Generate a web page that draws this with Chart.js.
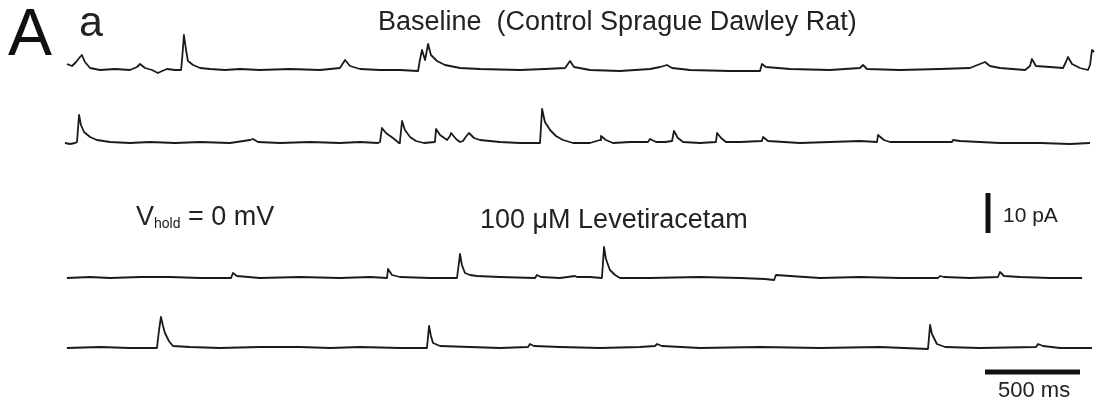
<!DOCTYPE html>
<html>
<head>
<meta charset="utf-8">
<script src="https://cdn.jsdelivr.net/npm/chart.js@4.4.1/dist/chart.umd.min.js"></script>
<style>
  html, body { margin: 0; padding: 0; background: #fff; }
  #wrap { position: relative; width: 1099px; height: 406px; overflow: hidden; }
  #wrap canvas { position: absolute; left: 0; top: 0; }
  .lbl { position: absolute; white-space: pre; line-height: 1; color: #222;
         font-family: "Liberation Sans", Arial, Helvetica, sans-serif; }
  .lbl sub { font-size: 14px; vertical-align: -3px; line-height: 1; }
</style>
</head>
<body>
<div id="wrap"><canvas id="traces"></canvas></div>
<script>
// Whole-cell recordings, Vhold = 0 mV: spontaneous currents
// time in ms from trace start, current in pA relative to each trace's baseline

// trace 1 - baseline, upper sweep
const T1_MS = [10, 37, 58, 79, 89, 105, 132, 184, 263, 342, 379, 395, 421, 458, 489, 511, 537, 579, 611, 616,
  626, 637, 647, 674, 711, 763, 842, 921, 1026, 1184, 1342, 1447, 1474, 1500, 1553, 1658, 1763, 1858, 1868, 1879,
  1895, 1911, 1926, 1958, 2000, 2079, 2184, 2395, 2526, 2632, 2658, 2679, 2763, 2921, 3079, 3132, 3168, 3195, 3289,
  3500, 3658, 3668, 3689, 3816, 4026, 4184, 4200, 4221, 4395, 4605, 4763, 4842, 4868, 4921, 5053, 5079, 5089, 5110,
  5184, 5253, 5268, 5279, 5300, 5342, 5384, 5395, 5405, 5416];
const T1_PA = [1.5, 1.0, 2.0, 3.25, 3.75, 2.0, 0.5, 0, 0.25, 0, 0.75, 1.5, 0.5, 0, -0.75, -0.25, 0.25, 0, 0, 2.5,
  8.75, 5.0, 2.25, 1.25, 0.5, 0.25, 0, 0.25, 0, 0.25, 0, 0.5, 2.5, 1.0, 0.25, 0, 0, -0.25, 2.5, 5.0,
  2.5, 6.5, 3.75, 2.25, 1.25, 0.5, 0.25, 0, 0.25, 0.5, 2.25, 0.75, 0, -0.25, 0.25, 0.75, 1.25, 0.5, 0,
  -0.25, -0.25, 1.5, 0.75, 0.25, 0, 0.5, 1.25, 0.25, 0, 0.25, 0.5, 2.0, 1.0, 0.5, 0, 1.0, 2.75, 1.0,
  0.75, 0.5, 2.0, 3.25, 1.5, 0.5, 0, 1.25, 5.0, 4.5];

// trace 2 - baseline, lower sweep
const T2_MS = [0, 26, 53, 63, 74, 84, 100, 132, 168, 237, 342, 447, 579, 711, 868, 974, 989, 1016, 1132, 1289,
  1447, 1553, 1647, 1658, 1668, 1689, 1726, 1758, 1763, 1774, 1789, 1816, 1847, 1868, 1889, 1947, 1953, 1974, 2011,
  2026, 2032, 2058, 2079, 2095, 2105, 2126, 2153, 2184, 2289, 2395, 2500, 2511, 2526, 2553, 2584, 2621, 2674, 2763,
  2816, 2821, 2847, 2884, 2974, 3068, 3079, 3111, 3158, 3195, 3205, 3226, 3253, 3342, 3426, 3432, 3453, 3479, 3553,
  3668, 3674, 3700, 3868, 4026, 4184, 4274, 4279, 4310, 4342, 4500, 4668, 4674, 4710, 4921, 5132, 5289, 5395];
const T2_PA = [0, -0.25, 0, 0.25, 7.0, 4.5, 2.75, 1.5, 0.75, 0.25, 0, 0.25, 0, 0.25, 0, 0.75, 1.0, 0.25, 0, 0.25,
  0, 0.25, 0, 0.25, 3.75, 2.5, 1.25, 0, 0.5, 5.5, 3.25, 1.5, 0.5, 0.25, 0, 0.25, 3.5, 2.0, 0.75,
  1.75, 2.5, 1.0, 0.25, 0.5, 1.25, 2.5, 1.25, 0.75, 0.25, 0, 0, 8.5, 5.25, 3.25, 1.75, 0.75, 0, 0,
  0.75, 1.75, 0.75, 0, 0.25, 0.25, 1.0, 0.25, 0.25, 0.5, 3.0, 1.25, 0.25, 0, 0.25, 2.5, 1.25, 0.25, 0.25,
  0.5, 1.5, 0.5, 0, 0.25, 0.5, 0.25, 2.0, 0.75, 0.25, 0.25, 0.25, 0.75, 0.5, 0, 0, -0.25, 0];

// trace 3 - 100 uM levetiracetam, upper sweep
const T3_MS = [10, 132, 237, 395, 553, 711, 874, 884, 905, 1026, 1237, 1447, 1605, 1695, 1700, 1721, 1763, 1921,
  2063, 2074, 2079, 2089, 2105, 2132, 2168, 2289, 2474, 2484, 2505, 2605, 2684, 2695, 2763, 2826, 2837, 2847, 2868,
  2895, 2921, 3079, 3342, 3553, 3684, 3732, 3742, 3816, 3974, 4184, 4395, 4595, 4605, 4626, 4763, 4910, 4921, 4942,
  5026, 5184, 5353];
const T3_PA = [0, 0.25, 0, 0.25, 0.25, 0, 0, 1.25, 0.5, 0, 0.25, 0, 0.25, 0, 2.25, 0.75, 0.25, 0,
  0, 4.0, 6.0, 3.25, 1.25, 0.75, 0.5, 0.25, 0, 0.75, 0.25, 0, 0.5, 0.25, 0.25, 0, 7.75, 4.75, 2.0,
  0.75, 0, 0, 0.25, 0, -0.25, -0.5, 0.75, 0.5, 0, 0.25, 0, 0, 0.5, 0.25, 0, 0.25, 1.5, 0.5,
  0.25, 0, 0];

// trace 4 - 100 uM levetiracetam, lower sweep
const T4_MS = [10, 184, 342, 484, 495, 505, 516, 526, 547, 568, 658, 816, 1026, 1237, 1395, 1553, 1763, 1905,
  1916, 1926, 1937, 1974, 2132, 2289, 2437, 2447, 2468, 2605, 2816, 3026, 3105, 3116, 3142, 3342, 3658, 3974, 4289,
  4542, 4553, 4563, 4589, 4632, 4816, 5111, 5121, 5147, 5237, 5405];
const T4_PA = [0, 0.25, 0, 0, 4.5, 7.75, 5.5, 3.75, 1.75, 0.5, 0.25, 0, 0.25, 0.25, 0, 0.25, 0, 0,
  5.5, 3.0, 1.25, 0.5, 0.25, 0, 0.25, 1.0, 0.5, 0.25, 0, 0.25, 0.5, 1.0, 0.5, 0, 0.25, 0, 0.25,
  -0.25, 5.75, 3.5, 1.0, 0.25, 0, 0.25, 1.0, 0.5, 0, 0];

// scale bars
const SCALE_MS = 500;
const SCALE_PA = 10;

// layout: figure pixels -> data units
const PX_PER_MS = 95 / 500;
const PX_PER_PA = 40 / 10;
const W = 1099, H = 406;
const TRACE_LEFT = 65;                    // px where t = 0
const BASELINE_PX = [70, 143, 278, 348];  // baseline row of each sweep
const toPA = py => (H - py) / PX_PER_PA;
const toMS = px => (px - TRACE_LEFT) / PX_PER_MS;

const TRACES = [[T1_MS, T1_PA], [T2_MS, T2_PA], [T3_MS, T3_PA], [T4_MS, T4_PA]];

const datasets = TRACES.map(([ms, pa], i) => ({
  data: ms.map((t, k) => ({ x: t, y: pa[k] + toPA(BASELINE_PX[i]) })),
  borderColor: '#1a1a1a',
  borderWidth: 1.8,
  pointRadius: 0,
  tension: 0,
  borderJoinStyle: 'round'
}));

// horizontal 500 ms bar and vertical 10 pA bar
const hx0 = toMS(985), hy = toPA(372);
datasets.push({
  data: [{ x: hx0, y: hy }, { x: hx0 + SCALE_MS, y: hy }],
  borderColor: '#111', borderWidth: 5, pointRadius: 0, borderCapStyle: 'butt'
});
const vx = toMS(988), vy0 = toPA(233);
datasets.push({
  data: [{ x: vx, y: vy0 }, { x: vx, y: vy0 + SCALE_PA }],
  borderColor: '#111', borderWidth: 5, pointRadius: 0, borderCapStyle: 'butt'
});

const wrap = document.getElementById('wrap');
const canvas = document.getElementById('traces');
canvas.width = W; canvas.height = H;

new Chart(canvas.getContext('2d'), {
  type: 'line',
  data: { datasets },
  options: {
    responsive: false,
    animation: false,
    layout: { padding: 0 },
    plugins: { legend: { display: false }, tooltip: { enabled: false } },
    scales: {
      x: { type: 'linear', display: false, min: toMS(0), max: toMS(W) },
      y: { type: 'linear', display: false, min: toPA(H), max: toPA(0) }
    },
    elements: { line: { fill: false } }
  }
});

// text labels: x, baseline y, font size
const LABELS = [
  { html: 'A', x: 8, base: 55, size: 66, color: '#111' },
  { html: 'a', x: 79, base: 36, size: 43 },
  { html: 'Baseline  (Control Sprague Dawley Rat)', x: 378, base: 31, size: 27 },
  { html: 'V<sub>hold</sub> = 0 mV', x: 136, base: 226, size: 27 },
  { html: '100 \u03bcM Levetiracetam', x: 480, base: 229, size: 27 },
  { html: '10 pA', x: 1003, base: 222, size: 21 },
  { html: '500 ms', x: 998, base: 398, size: 22 }
];
LABELS.forEach(l => {
  const d = document.createElement('div');
  d.className = 'lbl';
  d.innerHTML = l.html;
  d.style.left = l.x + 'px';
  d.style.top = (l.base - 0.8465 * l.size) + 'px';
  d.style.fontSize = l.size + 'px';
  if (l.color) d.style.color = l.color;
  wrap.appendChild(d);
});
</script>
</body>
</html>
